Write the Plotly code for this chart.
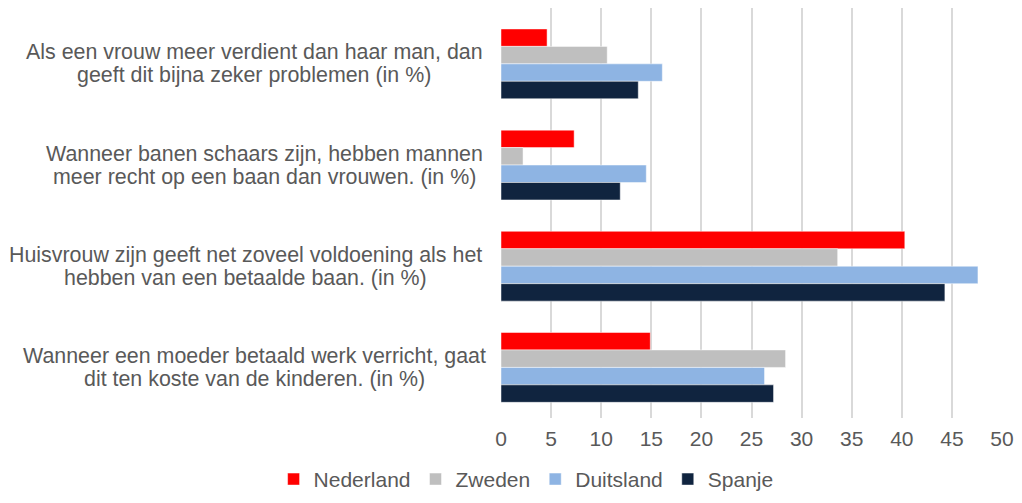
import plotly.graph_objects as go

stellingen = [
    ["Als een vrouw meer verdient dan haar man, dan", "geeft dit bijna zeker problemen (in %)"],
    ["Wanneer banen schaars zijn, hebben mannen", "meer recht op een baan dan vrouwen. (in %)"],
    ["Huisvrouw zijn geeft net zoveel voldoening als het", "hebben van een betaalde baan. (in %)"],
    ["Wanneer een moeder betaald werk verricht, gaat", "dit ten koste van de kinderen. (in %)"],
]
landen = ["Nederland", "Zweden", "Duitsland", "Spanje"]
kleuren = ["#ff0000", "#bfbfbf", "#8eb4e3", "#10243f"]

nederland = [4.6, 7.3, 40.3, 14.9]
zweden = [10.6, 2.2, 33.6, 28.4]
duitsland = [16.1, 14.5, 47.6, 26.3]
spanje = [13.7, 11.9, 44.3, 27.2]
waarden = [nederland, zweden, duitsland, spanje]

ypos = list(range(len(stellingen)))
FONT = "Liberation Sans, Arial"
GRIJS = "#595959"

fig = go.Figure()
for land, kleur, vals in zip(landen, kleuren, waarden):
    fig.add_trace(go.Bar(
        y=ypos, x=vals, name=land, orientation="h",
        marker=dict(color=kleur, line=dict(color="rgba(255,255,255,0.6)", width=0.8)),
    ))

# labels links: blok gecentreerd, rechterkant van langste regel op gelijke hoogte
label_midden = [-0.493, -0.473, -0.509, -0.493]
for i, regels in enumerate(stellingen):
    for j, regel in enumerate(regels):
        fig.add_annotation(
            x=label_midden[i], xref="paper", y=i, yref="y", text=regel,
            yshift=11.5 - 23 * j,
            showarrow=False, xanchor="center", yanchor="middle", align="center",
            font=dict(family=FONT, size=21.4, color=GRIJS),
        )

# de pagina heeft 8px marge rond de figuur, dus iets kleiner houden
fig.update_layout(
    width=1006, height=487,
    margin=dict(l=493, r=12, t=0, b=77),
    plot_bgcolor="white", paper_bgcolor="white",
    barmode="group", bargap=0.31, bargroupgap=0,
    font=dict(family=FONT, size=21, color=GRIJS),
    legend=dict(
        orientation="h", xref="container", yref="container",
        x=0.515, y=0.032, xanchor="center", yanchor="middle",
        font=dict(size=21, color=GRIJS), traceorder="normal",
    ),
    xaxis=dict(
        range=[0, 50], dtick=5, showgrid=True, gridcolor="#d9d9d9", gridwidth=2,
        zeroline=False, showline=False, ticks="", tickfont=dict(size=21, color=GRIJS),
        ticklabelstandoff=6,
    ),
    yaxis=dict(
        range=[3.5, -0.552], showticklabels=False, showgrid=False, zeroline=False,
        showline=False, ticks="",
    ),
)

fig.write_html("out.html")
